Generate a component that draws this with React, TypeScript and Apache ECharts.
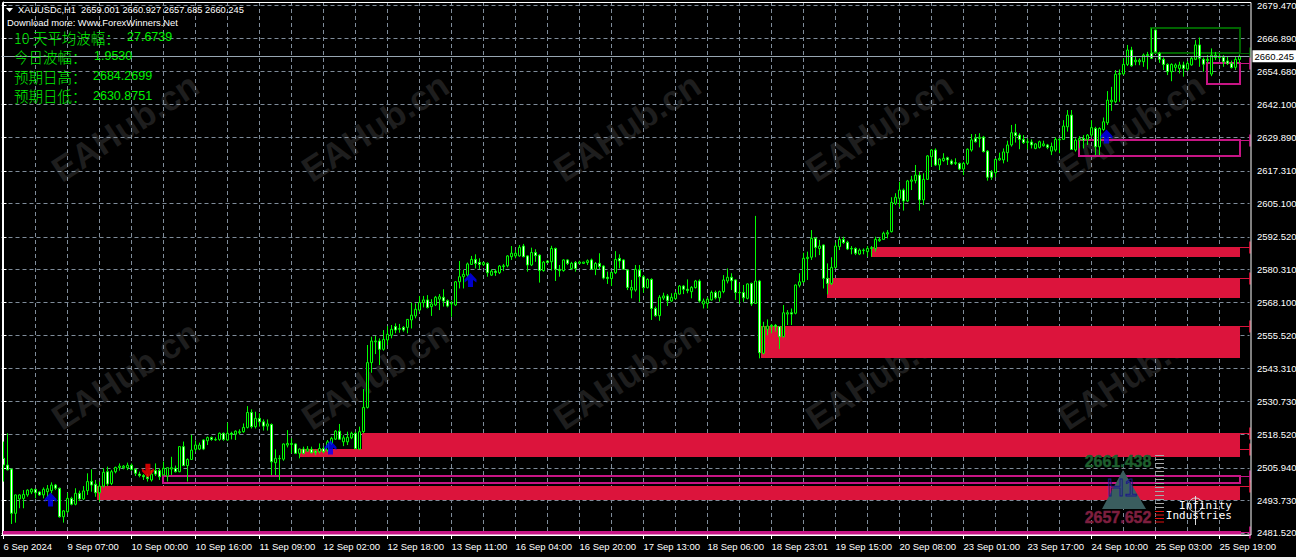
import React, { useEffect, useRef } from "react";
import * as echarts from "echarts";

// [open, close, low, high] per hourly bar
const bars06to09Sep = [
  [2509.5,2507,2500.8,2515.8],[2507,2505.2,2505,2518.9],[2505.5,2488.9,2484.9,2505.6],[2488.9,2495.8,2485.4,2495.9],
  [2494.3,2495.8,2490.8,2496],[2494.5,2496,2490.8,2497.6],[2495.8,2497.6,2495.1,2497.9],[2496.9,2497.9,2496.1,2498.3],
  [2497.9,2496.6,2494.5,2498.1],[2496.9,2495.8,2495.5,2497.1],[2495.8,2497.9,2494.5,2498.6],[2497,2498.1,2495,2499.5],
  [2497.4,2499.5,2496.4,2500.5],[2499.5,2498.3,2497.6,2499.9],[2498.3,2487.6,2487.3,2498.5],[2487.6,2489.8,2485.4,2490.1],
  [2489.5,2494.5,2488.9,2496.6],[2494.5,2492.3,2491.9,2495.1],[2492.3,2496.4,2491.9,2498.3],[2496.4,2494.3,2493.5,2497.4],
  [2494.3,2497.3,2493.9,2499.1],[2497.4,2500.8,2495.8,2503.9],[2500.8,2499.5,2497,2505.4],[2499.8,2496.6,2495.1,2501.4],
  [2496.6,2499.1,2493.3,2500.8],[2499.1,2504.3,2498.6,2505.8],[2504.5,2499.9,2499.1,2506.4],[2500.1,2504.5,2499.5,2505.2],
  [2504.5,2506.1,2503.9,2506.4],[2506.1,2506.6,2504.9,2507.6],[2506,2506.6,2505.4,2507],[2506,2506.9,2505.1,2507.9],
];
const bars10Sep = [
  [2506.9,2505.4,2504.9,2507.6],[2505.4,2503.9,2502.9,2505.8],[2503.6,2503.1,2502.4,2504.5],[2503.1,2502.6,2501.4,2503.6],
  [2502.6,2501.9,2500.8,2503.6],[2501.4,2503.6,2500.8,2505.1],[2504.9,2503.6,2502.9,2507.6],[2504.9,2502.6,2501.4,2505.8],
  [2503.3,2505.8,2503,2508.3],[2502.9,2506,2500.8,2506.1],[2505.5,2506,2503.3,2510.1],[2505.8,2504.5,2504.2,2506.8],
  [2504.5,2513.9,2504.3,2514.1],[2513.9,2506.8,2506.6,2515.8],[2506.8,2509.1,2500.8,2509.5],[2509.1,2512.6,2508.9,2518.3],
  [2512.9,2514.5,2512,2516.2],[2513,2514.5,2512.6,2515.4],[2516.4,2513,2512.6,2516.6],[2516.1,2517.3,2514.5,2517.7],
  [2517.3,2516.6,2516.1,2517.7],[2516.4,2516.6,2516.1,2517.4],[2516.6,2518.9,2516.1,2519.2],[2518.9,2516.6,2516.1,2519.2],
  [2516.4,2518.9,2516.1,2522.9],[2518.9,2518.5,2516.6,2519.5],
];
const bars11Sep = [
  [2518.6,2519.7,2516.4,2520],[2519.1,2519.5,2518.5,2520.4],[2519.5,2521.1,2519.1,2522.6],[2521.1,2526.7,2520.7,2529.1],
  [2526.7,2521.4,2520.7,2527.9],[2521.4,2524.5,2520.7,2527],[2524.5,2523.2,2521.4,2526.4],[2523.2,2521.6,2519.9,2524.1],
  [2521.6,2522.4,2519.9,2524.1],[2522.2,2508.2,2503.2,2522.6],[2507.9,2509.5,2503.2,2512.9],[2509.4,2509.5,2501.4,2510.7],
  [2509.2,2514.9,2508.6,2515.1],[2514.5,2515.1,2513.6,2520.1],[2514.7,2515.1,2511.4,2517],[2514.9,2511.4,2511.1,2515.1],
  [2511.4,2513,2509.5,2513.2],[2513,2511.4,2511,2513.9],[2512.2,2513,2512,2514.1],[2512.9,2511.6,2511.4,2513.9],
  [2512.2,2511.7,2510.7,2512.9],[2512,2513.2,2511.4,2515.1],[2513.2,2512,2511.4,2513.9],[2512.6,2515.7,2512,2516.4],
];
const bars12Sep = [
  [2515.1,2517,2514.5,2517.6],[2516.7,2519.7,2516.4,2520.1],[2519.7,2516.7,2516.4,2522.4],[2515.7,2517.2,2514.1,2518.2],
  [2515.7,2517.4,2514.5,2519.5],[2517.2,2518.9,2516.7,2519.5],[2518.9,2513.2,2512.9,2519.5],[2513,2519.5,2512.6,2521.4],
  [2519.5,2528.6,2518.9,2535.5],[2528.6,2545.4,2528.2,2552],[2545.4,2553.5,2541.6,2555.1],[2553.2,2553.5,2548.6,2555.4],
  [2553.5,2550.4,2544.5,2554.5],[2550.4,2554.1,2549.9,2557.6],[2553.9,2556,2552,2559.1],[2555.7,2557.9,2554.5,2559.5],
  [2558.9,2557.6,2556.4,2560.1],[2557.9,2558.2,2556.6,2559.9],[2558.6,2557.6,2557,2559.1],[2558.6,2561.6,2556.4,2561.6],
  [2561.4,2563.2,2558.2,2567.9],[2562.9,2565.4,2562,2567.6],[2565.1,2567.9,2564.5,2570.4],[2567.9,2568.9,2566.1,2570.4],
  [2568.9,2566.1,2565.7,2570.7],
];
const bars13Sep = [
  [2566.4,2567.4,2562.9,2569.2],[2567,2569.9,2566.6,2570.4],[2569.2,2570.1,2565.1,2571.1],[2569.9,2568.5,2566.4,2572.9],
  [2568.6,2566.6,2566.1,2569.1],[2567.4,2567.6,2562.6,2568.6],[2567,2575.7,2566.6,2576],[2575.7,2577.6,2573.2,2583.5],
  [2577.6,2578.5,2573.2,2580.1],[2578.2,2582.4,2577.6,2582.9],[2582.2,2584.1,2582,2585.4],[2584.1,2582.6,2580.7,2586],
  [2583,2582.2,2580.4,2584.5],[2582.2,2582.9,2581.6,2583.2],[2582.6,2579.1,2577.6,2583],[2578.2,2579.7,2577.9,2580.4],
  [2579.7,2579.2,2577.9,2580.4],[2579.1,2581.6,2578.6,2582],[2581.4,2581.7,2579.7,2582.4],[2581.7,2585.4,2581.1,2585.7],
];
const bars16Sep = [
  [2585.1,2586.4,2583.9,2589.1],[2585.4,2586.4,2584.5,2587.6],[2585.4,2588.6,2585.1,2589.5],[2589.1,2585.1,2584.9,2589.9],
  [2585.4,2582,2579.5,2585.7],[2582,2586.7,2581.6,2588.5],[2586.7,2585.5,2583.2,2587.9],[2585.7,2579.9,2575.4,2586],
  [2579.9,2583.1,2579.5,2583.5],[2583.5,2582.9,2582.6,2583.9],[2583.2,2588.2,2579.9,2589.2],[2588.2,2580.4,2576,2588.5],
  [2580.4,2579.9,2577.6,2582],[2579.9,2583.9,2579.5,2584.1],[2583.9,2582.6,2582,2584.1],[2580.7,2582.6,2580.1,2583.2],
  [2582.9,2580.7,2579.5,2583.5],[2582.6,2583.1,2582.4,2583.6],[2582.6,2583.1,2582.4,2583.2],[2582.9,2583.6,2582,2584.1],
  [2583.9,2580.4,2580.1,2584.4],[2580.4,2582.6,2578.2,2583.1],[2582.6,2581.4,2580.4,2586.4],
];
const bars17Sep = [
  [2581.6,2577.1,2576.6,2581.9],[2577.4,2576.9,2574.9,2579.5],[2576.9,2579.2,2574.1,2579.5],[2579.1,2584.1,2578.6,2587.2],
  [2584.5,2583.5,2580.7,2586],[2583.9,2580.4,2580.1,2584.1],[2580.1,2573.6,2572.6,2580.4],[2572.6,2573.6,2569.5,2576.4],
  [2572.6,2580.4,2572,2582],[2580.1,2577.6,2568.2,2582],[2577.6,2573.5,2571.6,2578.2],[2573.5,2576.6,2573.2,2577],
  [2576.6,2565.7,2561.4,2577],[2565.7,2563,2562.6,2566.4],[2563,2569.9,2561.1,2570.7],[2569.6,2570.4,2568.9,2571.6],
  [2570.4,2568.6,2566.6,2571.1],[2568.5,2569.9,2568.1,2571.4],[2569.4,2571.4,2569.1,2571.9],[2571.1,2574.1,2570.9,2574.5],
  [2574.1,2572.9,2571.1,2574.5],[2572.9,2572.4,2571.4,2576.6],[2572,2573.6,2569.5,2574.1],
];
const bars18Sep = [
  [2573.5,2576,2573.2,2576.4],[2576,2568.5,2567.9,2576.6],[2567.4,2568.5,2565.7,2569.4],[2567.6,2569.2,2565.7,2569.9],
  [2568.9,2571.7,2568.6,2572.4],[2571.7,2569.7,2569.1,2572.4],[2569.7,2572,2568.2,2572.4],[2572,2576.4,2571.4,2578.2],
  [2576,2577.4,2575.1,2580.7],[2577.4,2576.1,2572.6,2578.9],[2576.4,2571.7,2568.9,2576.6],[2571.7,2571.6,2567.4,2575.1],
  [2571.7,2569.7,2568.2,2574.5],[2569.5,2574.9,2569.1,2575.1],[2575.1,2567.4,2566.6,2575.4],[2567.6,2576,2567.4,2600.4],
  [2576,2549.1,2547,2576.4],[2548.9,2558.9,2548.5,2560.7],[2557.9,2559.1,2555.7,2561.6],[2558.9,2559.4,2556.4,2559.9],
  [2559.4,2558.9,2557,2559.9],[2558.9,2555.1,2550.5,2559.1],[2555.1,2564.1,2554.9,2567],
];
const bars19Sep = [
  [2563.6,2564.1,2559.5,2565.1],[2564.1,2563.6,2559.5,2565.7],[2563.9,2574.5,2563.5,2574.7],[2574.4,2575.7,2573.6,2578.9],
  [2575.7,2584.5,2575.4,2586.6],[2584.4,2584.9,2576.4,2587],[2584.9,2592,2583.9,2595.1],[2592,2588.6,2584.9,2592.4],
  [2588.2,2589.1,2585.7,2591.4],[2589.5,2577,2573.2,2589.7],[2577,2575.1,2571,2582.6],[2575.1,2581.1,2574.5,2584.9],
  [2581.1,2589.1,2580.7,2590.4],[2588.9,2591.6,2587.6,2592.6],[2591.6,2590.4,2589.9,2592.6],[2590.5,2588,2587.6,2591.1],
  [2588,2588.2,2586,2589.1],[2588.2,2586.4,2585.7,2588.6],[2586.1,2587.6,2585.7,2588.2],[2587.4,2587.6,2586,2588.2],
  [2587,2588.2,2585.1,2589.1],[2588.2,2588.5,2585.1,2589.1],[2588.2,2591.6,2587,2592.6],
];
const bars20Sep = [
  [2591.1,2591.6,2590.7,2592.4],[2591.6,2593.9,2591.4,2594.5],[2593.6,2594.1,2592,2595.1],[2594.5,2605.5,2594.2,2607.4],
  [2605.1,2607.4,2604.5,2608.9],[2607,2610.1,2603.6,2613.2],[2610.1,2606,2602.4,2610.7],[2606,2613.5,2605.6,2613.9],
  [2613.4,2613.9,2610.1,2615.4],[2613.6,2615.7,2612.6,2619.5],[2615.7,2606.4,2602.4,2616.9],[2606.4,2614.1,2604.5,2616.4],
  [2614.1,2622.9,2613.9,2623.2],[2622.6,2625.1,2618.9,2625.4],[2625.1,2619.5,2619.1,2625.7],[2619.5,2621.7,2617.6,2622],
  [2621.1,2622,2620.7,2623.9],[2622.2,2621.4,2619.5,2622.6],[2621,2619.9,2619.5,2621.6],[2620.1,2620.4,2619.5,2622],
];
const bars23Sep = [
  [2620.1,2618,2617.6,2620.4],[2618,2620.1,2615.7,2620.7],[2620.1,2625.4,2619.5,2625.7],[2625.1,2628.9,2624.5,2631.1],
  [2629.5,2628.2,2627.9,2631.1],[2629.4,2629.9,2626.1,2631.4],[2629.9,2624.5,2624.2,2630.4],[2624.7,2614.9,2613.6,2625.1],
  [2616.9,2614.9,2613.9,2617.6],[2616.6,2621.6,2614.9,2622],[2621.4,2622,2621.1,2624.1],[2621.4,2624.4,2620.1,2625.7],
  [2624.1,2627,2620.7,2628.6],[2627,2631.6,2626.4,2634.5],[2631.6,2630.5,2627.9,2634.9],[2630.7,2629.1,2625.4,2631.4],
  [2629.1,2627.9,2627.4,2630.7],[2628,2628.2,2625.4,2629.5],[2628.1,2627,2625.7,2629.1],[2625.7,2627.4,2625.4,2627.6],
  [2626.1,2628.2,2625.7,2628.6],[2626.7,2627.4,2626.4,2628.6],[2627,2626.1,2625.4,2627.4],
];
const bars24Sep = [
  [2624.7,2626.4,2623.2,2627.9],[2625.1,2629.1,2624.5,2629.9],[2628.9,2629.1,2623.9,2629.5],[2629.1,2634.1,2628.9,2636.3],
  [2633.8,2638.2,2632,2640.1],[2638.2,2625.3,2625.1,2640.1],[2625.1,2628.8,2624.5,2629.5],[2628.8,2629.4,2625.7,2630.3],
  [2629.4,2628.8,2625.7,2630.7],[2629.1,2630.7,2627,2631.1],[2630.7,2633.5,2630.1,2636.3],[2633.2,2626.3,2623.2,2633.8],
  [2626.3,2633.2,2623.2,2633.6],[2632.8,2635.7,2632.3,2637.3],[2635.3,2643.8,2634.5,2647.2],[2643.2,2643.8,2639.8,2648.8],
  [2643.2,2653.5,2642.6,2655.1],[2653.5,2653.8,2643.2,2655.3],[2653.6,2657.2,2653.2,2659.5],[2657.2,2662.6,2656.6,2664.5],
  [2662.6,2656.7,2656.3,2663.8],[2658.2,2658.8,2656.9,2660.1],[2658.2,2658.8,2656.9,2659.5],
];
const bars25Sep = [
  [2658.2,2660.7,2656.3,2661.3],[2660.5,2660.9,2655.3,2661.9],[2661.3,2659.5,2659.2,2670.7],[2670.1,2661.9,2661.6,2670.3],
  [2661.3,2659.1,2657.8,2661.9],[2659.1,2657.2,2655.1,2659.8],[2657.2,2654.5,2653.2,2657.6],[2654.5,2657.2,2650.9,2657.6],
  [2656.1,2657,2654.5,2657.6],[2655.7,2657,2653.8,2658.2],[2657,2655.7,2652.6,2658.2],[2655.5,2657.6,2654.8,2658.5],
  [2657,2659.5,2656.7,2660.1],[2659.1,2664.5,2658.8,2666.3],[2664.5,2659.5,2656.3,2667.3],[2659.1,2657.3,2654.5,2659.8],
  [2658.6,2659.1,2657.6,2660.7],[2653.6,2660.7,2652.8,2663.2],[2659.8,2660.7,2658.8,2661.9],[2659.8,2660.3,2659.1,2661.3],
  [2659.8,2658.2,2656.3,2660.7],[2658.5,2657.6,2657,2660.1],[2657.6,2656,2655.7,2658.6],[2656.1,2659.1,2655.1,2660.1],
  [2659.001,2660.245,2657.685,2660.927],
];

const yTicks = [2679.47,2666.89,2654.68,2642.1,2629.89,2617.31,2605.1,2592.52,2580.31,2568.1,2555.52,2543.31,2530.73,2518.52,2505.94,2493.73,2481.52];
const xTickLabels = ["6 Sep 2024","9 Sep 07:00","10 Sep 00:00","10 Sep 16:00","11 Sep 09:00","12 Sep 02:00","12 Sep 18:00","13 Sep 11:00","16 Sep 04:00","16 Sep 20:00","17 Sep 13:00","18 Sep 06:00","18 Sep 23:01","19 Sep 15:00","20 Sep 08:00","23 Sep 01:00","23 Sep 17:00","24 Sep 10:00","25 Sep 03:00","25 Sep 19:00"];
const lastPrice = 2660.245;

// [first bar, last bar, upper price, lower price, colour key, filled]
const zones = [
  [216.9,309,2588.7,2585,"red",1],
  [205.9,309,2577.1,2569.8,"red",1],
  [189.3,309,2559.1,2547.2,"red",1],
  [89.6,309,2519,2510,"red",1],
  [74.1,89.6,2513,2510,"red",1],
  [23.4,309,2499.1,2493.9,"red",1],
  [39.9,309,2502.9,2500.3,"pink",0],
  [-0.1,309,2481.9,2481.1,"pink",0],
  [268.9,309,2628.8,2622.9,"pink",0],
  [300.8,309,2657.7,2649.8,"pink",0],
  [286.9,309,2670.8,2661.5,"green",0],
];
// [price level, colour key]
const edgeMarks = [
  [2661.5,"green"],[2657.7,"pink"],[2628.8,"pink"],[2588.7,"red"],[2577.1,"red"],[2559.1,"red"],
  [2519,"red"],[2513,"red"],[2502.9,"pink"],[2499.1,"red"],[2481.9,"pink"],
];
// [bar, price]
const upSignals = [[11.75,2494.1],[81.75,2513.6],[116.75,2576.4],[275.75,2630.2]];
const downSignals = [[36.1,2504.9]];

const infoRows = [
  { label: "10 天平均波幅：", value: "27.6739", y: 37, vx: 127 },
  { label: "今日波幅：", value: "1.9530", y: 56, vx: 94 },
  { label: "预期日高：", value: "2684.2699", y: 76, vx: 93 },
  { label: "预期日低：", value: "2630.8751", y: 95.5, vx: 93 },
];

const palette: Record<string, string> = { red: "#DC143C", pink: "#C71585", green: "#006400" };
const LIME = "#00FF00";
const GRID = "#7f8c9a";
const SANS = "'Liberation Sans', Arial, sans-serif";
const CJK = "'Noto Sans CJK SC', sans-serif";
const ARROW_UP = "path://M6 0 L12 6.5 L12 9.5 L8.5 7 L8.5 14 L3.5 14 L3.5 7 L0 9.5 L0 6.5 Z";
const ARROW_DOWN = "path://M6 14 L12 7.5 L12 4.5 L8.5 7 L8.5 0 L3.5 0 L3.5 7 L0 4.5 L0 7.5 Z";

const bars = [
  ...bars06to09Sep, ...bars10Sep, ...bars11Sep, ...bars12Sep, ...bars13Sep, ...bars16Sep, ...bars17Sep,
  ...bars18Sep, ...bars19Sep, ...bars20Sep, ...bars23Sep, ...bars24Sep, ...bars25Sep,
];
const categories = Array.from({ length: 312 }, (_, i) => (i % 16 === 0 ? xTickLabels[i / 16] ?? "" : ""));

function buildGraphics() {
  const els: any[] = [];
  for (const cy of [127, 375]) {
    for (const cx of [125, 375, 627, 879, 1131]) {
      els.push({
        type: "text", x: cx, y: cy, rotation: 0.58, z: -1, silent: true,
        style: { text: "EAHub.cn", font: `bold 35px ${SANS}`, fill: "#1e1e1e", textAlign: "center", textVerticalAlign: "middle" },
      });
    }
  }
  els.push({ type: "rect", shape: { x: 2.5, y: 2.5, width: 1248.5, height: 532.5 }, z: 6, style: { fill: "none", stroke: "#fff", lineWidth: 1 } });
  els.push({ type: "polygon", shape: { points: [[6, 8], [13, 8], [9.5, 12]] }, z: 10, style: { fill: "#fff" } });
  els.push({ type: "text", x: 18, y: 10, z: 10, style: { text: "XAUUSDc,H1  2659.001 2660.927 2657.685 2660.245", font: `9.3px ${SANS}`, fill: "#fff", textVerticalAlign: "middle" } });
  els.push({ type: "text", x: 7, y: 22.5, z: 10, style: { text: "Download more: Www.ForexWinners.Net", font: `9.4px ${SANS}`, fill: "#fff", textVerticalAlign: "middle" } });
  for (const r of infoRows) {
    els.push({ type: "text", x: 14, y: r.y, z: 10, style: { text: r.label, font: `300 14.5px ${CJK}`, fill: "#00F000", textVerticalAlign: "middle" } });
    els.push({ type: "text", x: r.vx, y: r.y, z: 10, style: { text: r.value, font: `12.5px ${SANS}`, fill: "#00F000", textVerticalAlign: "middle" } });
  }
  // lower-right badge
  els.push({ type: "polygon", shape: { points: [[1123, 470], [1146, 509], [1102, 509]] }, z: 10, style: { fill: "#3a5d5e" } });
  els.push({ type: "text", x: 1122, y: 487, z: 11, style: { text: "H1", font: `24px ${SANS}`, fill: "none", stroke: "#1a1a88", lineWidth: 1, textAlign: "center", textVerticalAlign: "middle" } });
  els.push({ type: "text", x: 1118, y: 461, z: 11, style: { text: "2661.438", font: `bold 16px ${SANS}`, fill: "#1d5f2d", stroke: "#1d5f2d", lineWidth: 0.5, textAlign: "center", textVerticalAlign: "middle" } });
  els.push({ type: "text", x: 1118, y: 517, z: 11, style: { text: "2657.652", font: `bold 16px ${SANS}`, fill: "#7d1f3f", stroke: "#7d1f3f", lineWidth: 0.5, textAlign: "center", textVerticalAlign: "middle" } });
  for (let y = 455.5; y < 510; y += 4) {
    els.push({ type: "line", z: 11, shape: { x1: 1155, y1: y, x2: 1164, y2: y }, style: { stroke: "#a8a8a8", lineWidth: 1 } });
  }
  for (let y = 511.5; y < 523; y += 3.5) {
    els.push({ type: "line", z: 11, shape: { x1: 1155, y1: y, x2: 1164, y2: y }, style: { stroke: "#e01010", lineWidth: 1 } });
  }
  els.push({ type: "circle", z: 11, shape: { cx: 1195.5, cy: 505, r: 7 }, style: { fill: "none", stroke: "#ddd", lineWidth: 1 } });
  els.push({ type: "line", z: 11, shape: { x1: 1195.5, y1: 496, x2: 1195.5, y2: 525 }, style: { stroke: "#ddd", lineWidth: 1 } });
  els.push({ type: "text", x: 1232, y: 505, z: 12, style: { text: "Infinity", font: `11px 'DejaVu Sans Mono'`, fill: "#fff", textAlign: "right", textVerticalAlign: "middle" } });
  els.push({ type: "text", x: 1232, y: 515.5, z: 12, style: { text: "Industries", font: `11px 'DejaVu Sans Mono'`, fill: "#fff", textAlign: "right", textVerticalAlign: "middle" } });
  return els;
}

function renderZone(_: any, api: any) {
  const idx = _.dataIndex;
  const z = zones[idx];
  const a = api.coord([z[0], z[2]]);
  const b = api.coord([z[1], z[3]]);
  const color = palette[z[4] as string];
  const x = Math.round(a[0]), y = Math.round(a[1]);
  const shape = { x, y, width: Math.round(b[0]) - x, height: Math.round(b[1]) - y };
  return z[5]
    ? { type: "rect", shape, style: { fill: color } }
    : { type: "rect", shape, style: { fill: "none", stroke: color, lineWidth: 2 } };
}

function renderEdge(_: any, api: any) {
  const m = edgeMarks[_.dataIndex];
  const a = api.coord([309, m[0]]);
  const b = api.coord([311.6, m[0]]);
  const color = palette[m[1] as string];
  const y = Math.round(a[1]) + 0.5;
  return {
    type: "group",
    children: [
      { type: "line", shape: { x1: a[0], y1: y, x2: b[0], y2: y }, style: { stroke: color, lineWidth: 1 } },
      { type: "line", shape: { x1: b[0], y1: y - 6, x2: b[0], y2: y + 6 }, style: { stroke: color, lineWidth: 1.5 } },
    ],
  };
}

export default function App() {
  const ref = useRef<HTMLDivElement>(null);
  useEffect(() => {
    document.body.style.margin = "0";
    document.body.style.background = "#f0f0f0";
    const chart = echarts.init(ref.current!, undefined, { renderer: "svg" });
    chart.setOption({
      animation: false,
      backgroundColor: "#000",
      grid: { left: 1.5, top: 2, width: 1248, height: 533, containLabel: false, outerBoundsMode: "none" },
      xAxis: [
        {
          type: "category",
          data: categories,
          axisLine: { show: true, lineStyle: { color: "#fff" } },
          axisTick: { show: true, alignWithLabel: true, interval: 15, length: 4, lineStyle: { color: "#fff" } },
          axisLabel: { interval: 15, align: "left", color: "#fff", fontSize: 9.5, fontFamily: SANS, margin: 6, formatter: (v: string) => v, hideOverlap: false },
          splitLine: { show: true, interval: 7, alignWithLabel: true, lineStyle: { color: GRID, type: [4, 3], width: 1 } },
        },
        { type: "value", min: -0.5, max: 311.5, show: false, splitLine: { show: false } },
      ],
      yAxis: {
        type: "value",
        position: "right",
        offset: 1.5,
        min: 2480.77,
        max: 2680.6,
        axisLine: { show: true, lineStyle: { color: "#fff" } },
        axisTick: { show: true, length: 3, customValues: yTicks, lineStyle: { color: "#fff" } },
        axisLabel: { customValues: yTicks, color: "#fff", fontSize: 9.5, fontFamily: SANS, margin: 6, align: "left", formatter: (v: number) => v.toFixed(3) },
        splitLine: { show: true, lineStyle: { color: GRID, type: [4, 3], width: 1 } },
      },
      graphic: { elements: buildGraphics() },
      series: [
        { type: "custom", xAxisIndex: 1, z: 2, silent: true, clip: false, renderItem: renderZone, data: zones.map((z) => [z[0], z[2]]) },
        { type: "custom", xAxisIndex: 1, z: 2, silent: true, clip: false, renderItem: renderEdge, data: edgeMarks.map((m) => [309, m[0]]) },
        {
          type: "candlestick",
          xAxisIndex: 0,
          z: 3,
          barWidth: 3,
          data: bars,
          itemStyle: { color: "#000", color0: "#fff", borderColor: LIME, borderColor0: LIME, borderWidth: 1 },
          markLine: {
            silent: true,
            symbol: "none",
            z: 4,
            data: [{ yAxis: lastPrice }],
            lineStyle: { type: "solid", color: "#98a6b2", width: 1 },
            label: { position: "end", distance: 3, formatter: lastPrice.toFixed(3), color: "#000", backgroundColor: "#fff", padding: [1, 2, 1, 2], fontSize: 9.5, fontFamily: SANS },
          },
        },
        { type: "scatter", xAxisIndex: 1, z: 5, symbol: ARROW_UP, symbolSize: [12, 14], itemStyle: { color: "#0000FF" }, data: upSignals, silent: true },
        { type: "scatter", xAxisIndex: 1, z: 5, symbol: ARROW_DOWN, symbolSize: [12, 14], itemStyle: { color: "#FF0000" }, data: downSignals, silent: true },
      ],
    });
    return () => chart.dispose();
  }, []);
  return <div ref={ref} style={{ position: "fixed", left: 0, top: 0, width: 1296, height: 557 }} />;
}
